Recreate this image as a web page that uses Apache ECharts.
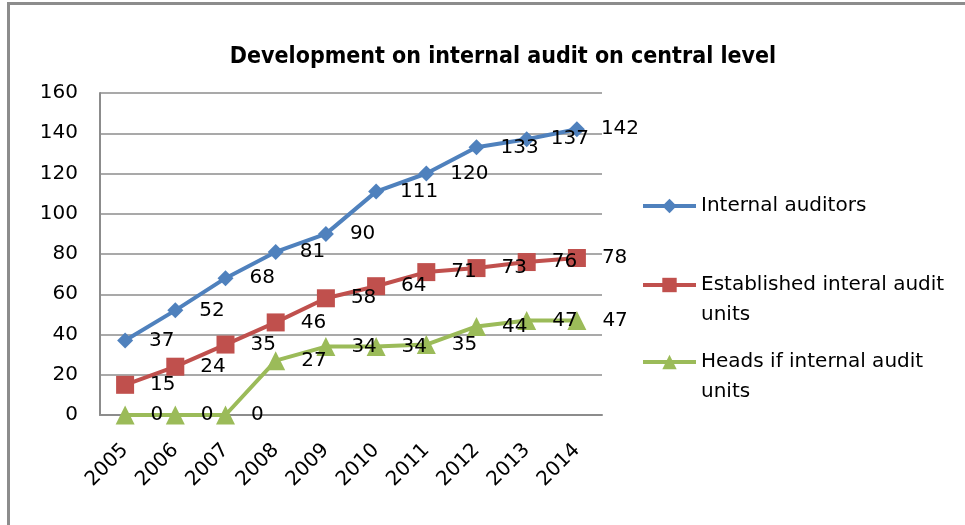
<!DOCTYPE html>
<html>
<head>
<meta charset="utf-8">
<script src="https://cdn.jsdelivr.net/npm/echarts@6/dist/echarts.min.js"></script>
<style>
  html, body { margin: 0; padding: 0; background: #fff; }
  #chart { position: absolute; left: 0; top: 0; width: 965px; height: 525px; }
  #frame { position: absolute; left: 7px; top: 2px; width: 970px; height: 540px;
           border-left: 3px solid #8c8c8c; border-top: 3px solid #8c8c8c; }
</style>
</head>
<body>
<div id="frame"></div>
<div id="chart"></div>
<script>
var years = ['2005','2006','2007','2008','2009','2010','2011','2012','2013','2014'];
var auditors = [37, 52, 68, 81, 90, 111, 120, 133, 137, 142];
var units = [15, 24, 35, 46, 58, 64, 71, 73, 76, 78];
var heads = [0, 0, 0, 27, 34, 34, 35, 44, 47, 47];
var yTicks = [0, 20, 40, 60, 80, 100, 120, 140, 160];

var font = 'DejaVu Sans';
var chart = echarts.init(document.getElementById('chart'));

function lineSeries(name, data, color, symbol, size) {
    return {
        name: name,
        type: 'line',
        data: data,
        symbol: symbol,
        symbolSize: size,
        lineStyle: { color: color, width: 4 },
        itemStyle: { color: color },
        label: {
            show: true,
            position: 'right',
            distance: 16,
            color: '#000',
            fontFamily: font,
            fontSize: 20
        },
        animation: false
    };
}

function legendAt(name, top) {
    return {
        orient: 'vertical',
        left: 636,
        top: top,
        itemWidth: 53,
        itemHeight: 18,
        itemGap: 0,
        data: [name],
        lineStyle: { width: 4 },
        formatter: function (n) {
            if (n === 'Internal auditors') return n;
            var parts = n.split(' ');
            var last = parts.pop();
            return '\n' + parts.join(' ') + '\n' + last;
        },
        textStyle: { color: '#000', fontFamily: font, fontSize: 20, lineHeight: 30 }
    };
}

chart.setOption({
    backgroundColor: 'transparent',
    title: {
        text: 'Development on internal audit on central level',
        left: 498,
        top: 41,
        textAlign: 'center',
        textStyle: { fontFamily: 'DejaVu Sans Condensed', fontWeight: 'bold', fontSize: 23, color: '#000' }
    },
    legend: [
        legendAt('Internal auditors', 186),
        legendAt('Established interal audit units', 235),
        legendAt('Heads if internal audit units', 312)
    ],
    grid: { left: 100, right: 363, top: 93, bottom: 110 },
    xAxis: {
        type: 'category',
        data: years,
        boundaryGap: true,
        axisLine: { lineStyle: { color: '#8c8c8c', width: 2 } },
        axisTick: { show: false },
        axisLabel: { rotate: 45, margin: 32, color: '#000', fontFamily: font, fontSize: 20, interval: 0 }
    },
    yAxis: {
        type: 'value',
        min: yTicks[0],
        max: yTicks[yTicks.length - 1],
        interval: 20,
        axisLine: { show: true, lineStyle: { color: '#8c8c8c', width: 2 } },
        axisTick: { show: false },
        splitLine: { lineStyle: { color: '#8c8c8c', width: 1.5 } },
        axisLabel: { margin: 22, color: '#000', fontFamily: font, fontSize: 20 }
    },
    series: [
        lineSeries('Internal auditors', auditors, '#4f81bd', 'diamond', 16),
        lineSeries('Established interal audit units', units, '#c0504d', 'rect', 18),
        lineSeries('Heads if internal audit units', heads, '#9bbb59', 'triangle', 19)
    ]
});
</script>
</body>
</html>
